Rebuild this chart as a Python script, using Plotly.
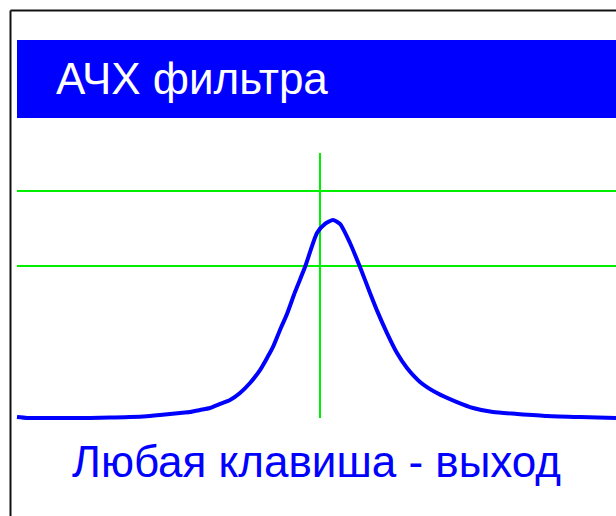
import plotly.graph_objects as go

# frequency response of the filter (normalised gain, 1.0 = upper grid line)
freq = [0, 10, 33, 53, 73, 93, 113, 133, 143, 153, 163, 173, 183, 193, 203,
        213, 223, 233, 243, 250, 256, 263, 270, 278, 288, 300, 308, 316, 323,
        333, 343, 353, 361, 370, 380, 390, 403, 420, 440, 456, 476, 500, 530,
        563, 599]
gain = [0.004, 0.0, 0.0, 0.0, 0.0, 0.002, 0.004, 0.009, 0.013, 0.018, 0.022,
        0.026, 0.035, 0.044, 0.062, 0.079, 0.110, 0.154, 0.211, 0.264, 0.313,
        0.388, 0.458, 0.555, 0.665, 0.815, 0.855, 0.872, 0.855, 0.771, 0.665,
        0.551, 0.463, 0.374, 0.286, 0.220, 0.159, 0.110, 0.070, 0.044, 0.026,
        0.018, 0.009, 0.004, 0.0]

grid_levels = [1.0, 0.67]
center_freq = 303
marker_top = 1.167

title_text = "АЧХ фильтра"
footer_text = "Любая клавиша - выход"

BLUE = "#0000ff"
GREEN = "#00ee00"

W, H = 616, 516


def px_x(p):
    return p / W


def px_y(p):
    return 1 - p / H


fig = go.Figure()
fig.add_trace(go.Scatter(
    x=freq,
    y=gain,
    mode="lines",
    line=dict(color=BLUE, width=4, shape="spline", smoothing=0.6),
    hoverinfo="skip",
))

shapes = []
for lvl in grid_levels:
    shapes.append(dict(type="line", xref="x", yref="y", x0=0, x1=599,
                       y0=lvl, y1=lvl, layer="below",
                       line=dict(color=GREEN, width=2)))
shapes.append(dict(type="line", xref="x", yref="y", x0=center_freq,
                   x1=center_freq, y0=0, y1=marker_top, layer="below",
                   line=dict(color=GREEN, width=2)))

# window frame and title banner
shapes.append(dict(type="line", xref="paper", yref="paper",
                   x0=px_x(10.5), x1=px_x(10.5), y0=px_y(10.5), y1=px_y(516),
                   line=dict(color="#111111", width=2)))
shapes.append(dict(type="line", xref="paper", yref="paper",
                   x0=px_x(10.5), x1=px_x(616), y0=px_y(10.5), y1=px_y(10.5),
                   line=dict(color="#111111", width=2)))
shapes.append(dict(type="rect", xref="paper", yref="paper",
                   x0=px_x(17), x1=px_x(616), y0=px_y(118), y1=px_y(40),
                   fillcolor=BLUE, line=dict(width=0)))

fig.update_layout(
    width=W,
    height=H,
    margin=dict(l=0, r=0, t=0, b=0),
    paper_bgcolor="white",
    plot_bgcolor="white",
    showlegend=False,
    shapes=shapes,
    xaxis=dict(range=[-17, 599], visible=False, fixedrange=True),
    yaxis=dict(range=[-98 / 227, 418 / 227], visible=False, fixedrange=True),
    annotations=[
        dict(text=title_text, xref="paper", yref="paper",
             x=px_x(54), y=px_y(78), xanchor="left", yanchor="middle",
             showarrow=False,
             font=dict(family="Liberation Sans, Arial", size=44, color="white")),
        dict(text=footer_text, xref="paper", yref="paper",
             x=px_x(70), y=px_y(461), xanchor="left", yanchor="middle",
             showarrow=False,
             font=dict(family="Liberation Sans, Arial", size=44, color=BLUE)),
    ],
)

fig.write_html("out.html", config={"displayModeBar": False},
               post_script="document.body.style.margin='0';")
